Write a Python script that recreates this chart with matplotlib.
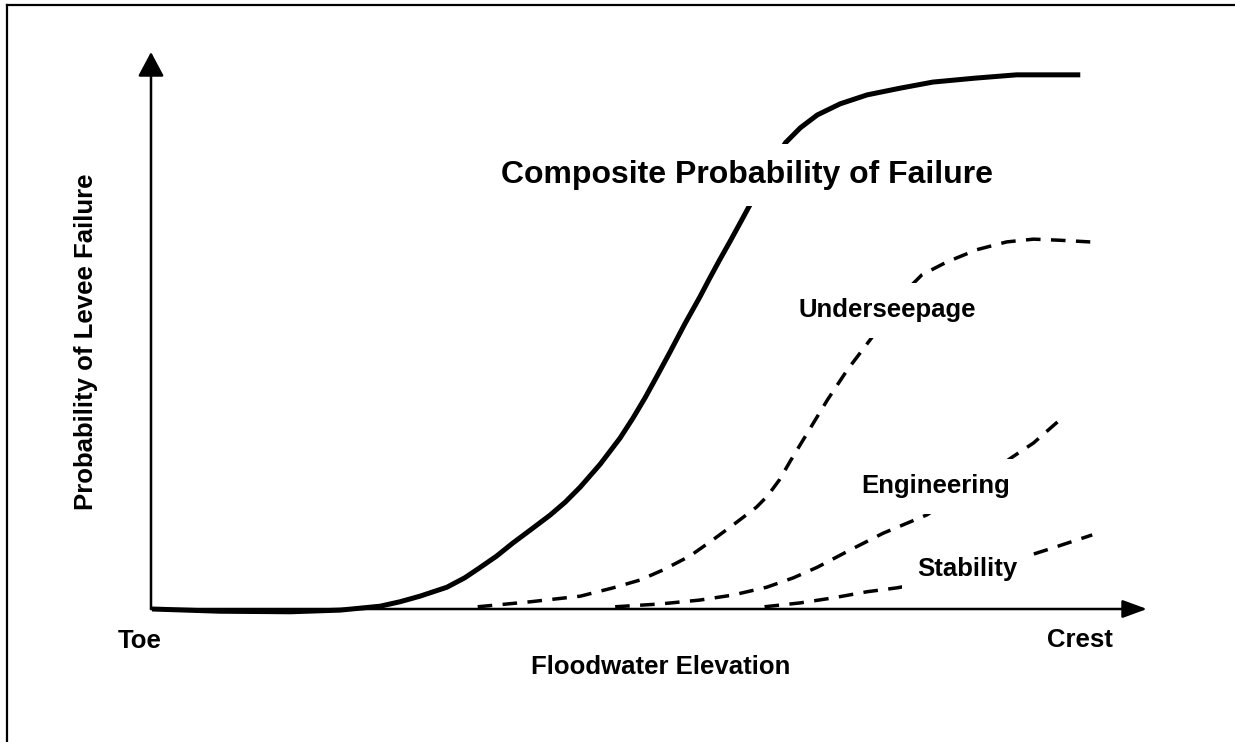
import matplotlib
matplotlib.use('Agg')
import matplotlib.pyplot as plt
from matplotlib.lines import Line2D

plt.rcParams['font.family'] = ['Liberation Sans', 'DejaVu Sans']
plt.rcParams['font.weight'] = 'bold'

# floodwater elevation (0 = toe, 100 = arrow tip) vs probability (0..100 = arrow tip)
composite_x = [0.1, 6.9, 14.0, 19.0, 23.0, 25.0, 27.0, 29.7, 31.5, 33.0, 34.7, 36.3, 38.1,
               40.1, 41.6, 43.1, 45.1, 47.1, 48.4, 49.6, 50.8, 52.1, 53.6, 55.1, 56.1,
               57.1, 58.2, 59.3, 61.6, 63.7, 65.2, 66.9, 69.2, 71.9, 75.2, 78.5, 82.7,
               86.9, 93.3]
composite_y = [0.0, -0.4, -0.5, -0.2, 0.5, 1.3, 2.3, 3.9, 5.6, 7.4, 9.5, 11.8, 14.2,
               16.9, 19.2, 21.9, 26.0, 30.7, 34.3, 37.9, 41.8, 46.1, 51.2, 56.0, 59.4,
               62.7, 66.2, 69.8, 77.4, 83.7, 86.4, 88.7, 90.7, 92.3, 93.5, 94.6, 95.3,
               95.9, 95.9]

underseepage_x = [32.8, 38.1, 43.1, 46.4, 49.1, 51.4, 54.1, 56.4, 58.6, 60.8, 61.9, 63.1,
                  64.2, 65.9, 67.9, 69.9, 72.4, 74.9, 77.4, 79.9, 82.9, 85.9, 88.6, 91.3, 94.3]
underseepage_y = [0.4, 1.3, 2.3, 3.8, 5.2, 7.0, 9.5, 12.4, 15.3, 18.3, 20.3, 23.2,
                  26.6, 31.6, 37.5, 42.9, 48.8, 55.5, 60.0, 62.3, 64.5, 65.9, 66.4, 66.2, 65.9]

engineering_x = [46.6, 51.1, 55.1, 58.4, 61.8, 64.5, 66.9, 70.2, 73.5, 77.9, 82.2, 86.5, 88.6, 91.6]
engineering_y = [0.4, 0.9, 1.6, 2.5, 3.9, 5.6, 7.5, 10.6, 13.6, 16.9, 21.9, 27.3, 29.8, 34.5]

stability_x = [61.6, 65.2, 68.5, 71.9, 74.9, 79.2, 85.2, 90.6, 94.5]
stability_y = [0.4, 1.1, 2.0, 3.1, 3.8, 5.2, 7.9, 11.0, 13.3]

W, H = 1235, 742
fig = plt.figure(figsize=(W / 100, H / 100), dpi=100)
fig.patch.set_facecolor('white')

# page frame (only left and top edges visible)
fig.add_artist(Line2D([7 / W, 7 / W], [0, 1 - 5 / H], transform=fig.transFigure, color='black', lw=1.6))
fig.add_artist(Line2D([7 / W, 1], [1 - 5 / H, 1 - 5 / H], transform=fig.transFigure, color='black', lw=1.6))

x0, x1, y0, y1 = 151, 1147, 609, 52
ax = fig.add_axes([x0 / W, 1 - y0 / H, (x1 - x0) / W, (y0 - y1) / H])
ax.set_xlim(0, 100)
ax.set_ylim(0, 100)
ax.axis('off')

# axes with arrows
arrow_y = dict(arrowstyle='-|>,head_length=15,head_width=8', lw=1.8, color='black',
               mutation_scale=1, shrinkA=0, shrinkB=0)
arrow_x = dict(arrowstyle='-|>,head_length=15,head_width=5.5', lw=1.8, color='black',
               mutation_scale=1, shrinkA=0, shrinkB=0)
ax.annotate('', xy=(0, 100), xytext=(0, 0), arrowprops=arrow_y, annotation_clip=False, zorder=1)
ax.annotate('', xy=(100, 0), xytext=(0, 0), arrowprops=arrow_x, annotation_clip=False, zorder=1)

ax.plot(composite_x, composite_y, color='black', lw=3.6, solid_capstyle='butt',
        solid_joinstyle='round', clip_on=False, zorder=2)
dash = (0, (4.2, 3.0))
for xs, ys in [(underseepage_x, underseepage_y), (engineering_x, engineering_y), (stability_x, stability_y)]:
    ax.plot(xs, ys, color='black', lw=2.5, linestyle=dash, dash_capstyle='butt', clip_on=False, zorder=2)

box = dict(boxstyle='square,pad=0.6', fc='white', ec='none')
ax.text(59.8, 76.5, 'Composite Probability of Failure', fontsize=23, ha='center', va='baseline',
        bbox=dict(boxstyle='square,pad=0.5', fc='white', ec='none'), zorder=3)
ax.text(73.9, 52.4, 'Underseepage', fontsize=18.5, ha='center', va='baseline', bbox=box, zorder=3)
ax.text(78.8, 20.8, 'Engineering', fontsize=18.5, ha='center', va='baseline', bbox=box, zorder=3)
ax.text(82.0, 5.9, 'Stability', fontsize=18.5, ha='center', va='baseline', bbox=box, zorder=3)

ax.text(-1.1, -7.0, 'Toe', fontsize=18.5, ha='center', va='baseline', clip_on=False)
ax.text(93.3, -6.8, 'Crest', fontsize=18.5, ha='center', va='baseline', clip_on=False)
ax.text(51.2, -11.7, 'Floodwater Elevation', fontsize=18.5, ha='center', va='baseline', clip_on=False)
ax.text(-6.5, 47.9, 'Probability of Levee Failure', fontsize=18.5, rotation=90,
        ha='center', va='center', clip_on=False)

fig.savefig('out.png', dpi=100, facecolor='white')
